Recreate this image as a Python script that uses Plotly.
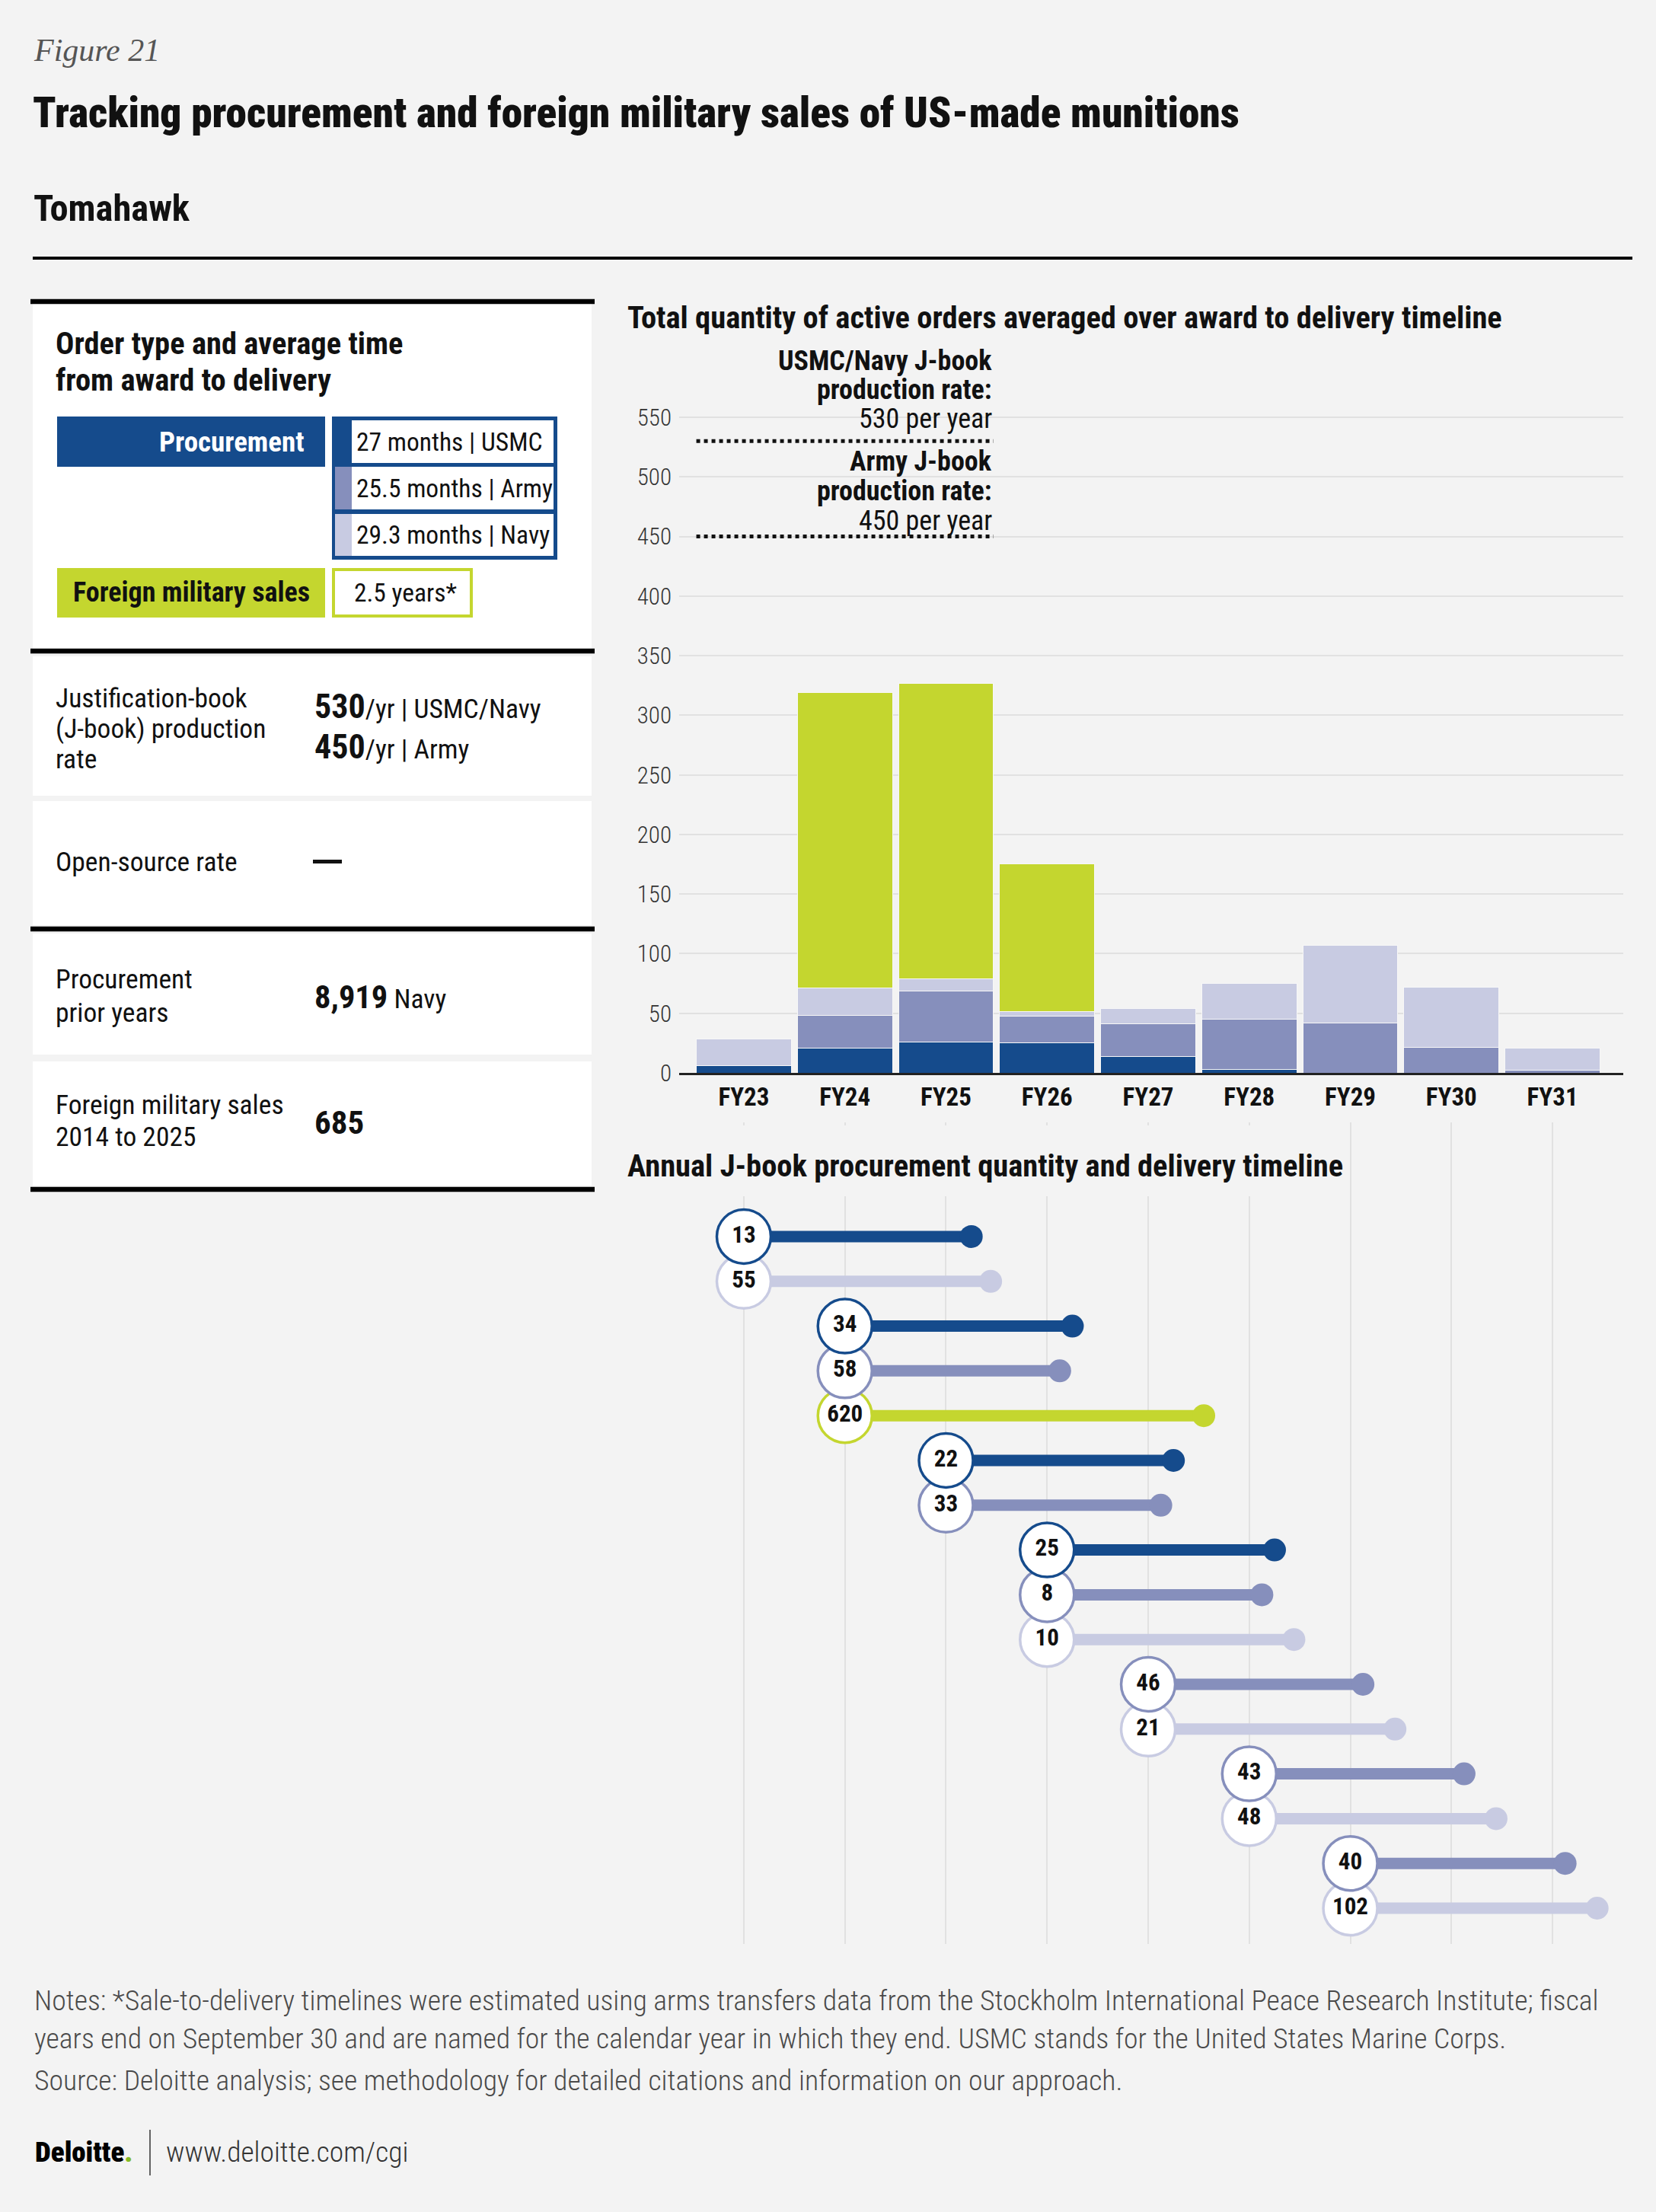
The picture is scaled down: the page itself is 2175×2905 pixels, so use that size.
import plotly.graph_objects as go

W, H = 2175, 2905
YS = 1.0066  # vertical calibration of measured positions


def px(x):
    return x / W


def py(y):
    return 1 - y * YS / H


BG = "#F3F3F3"
C_USMC = "#154B8C"
C_ARMY = "#868FBC"
C_NAVY = "#C8CBE2"
C_FMS = "#C4D62F"
GRID = "#E1E1E1"
INK = "#111111"
FONT = "'Roboto Condensed', 'DejaVu Sans Condensed', sans-serif"

# ---------------- data ----------------
fiscal_years = ["FY23", "FY24", "FY25", "FY26", "FY27", "FY28", "FY29", "FY30", "FY31"]
usmc_active = [6, 21, 26, 25, 13.7, 2.8, 0, 0, 0]
army_active = [0, 27, 43, 22.5, 27.3, 42.5, 42, 21.4, 2.3]
navy_active = [22.5, 23, 10, 4, 12.8, 30, 65, 50.6, 18.5]
fms_active = [0, 248, 248, 124, 0, 0, 0, 0, 0]
y_ticks = [0, 50, 100, 150, 200, 250, 300, 350, 400, 450, 500, 550]

rate_values = [530, 450]
rate_lines = [["<b>USMC/Navy J-book</b>", "<b>production rate:</b>", "530 per year"],
              ["<b>Army J-book</b>", "<b>production rate:</b>", "450 per year"]]

# timeline rows (order top to bottom)
tl_year = ["FY23", "FY23", "FY24", "FY24", "FY24", "FY25", "FY25", "FY26", "FY26", "FY26",
           "FY27", "FY27", "FY28", "FY28", "FY29", "FY29"]
tl_type = ["USMC", "Navy", "USMC", "Army", "FMS", "USMC", "Army", "USMC", "Army", "Navy",
           "Army", "Navy", "Army", "Navy", "Army", "Navy"]
tl_qty = [13, 55, 34, 58, 620, 22, 33, 25, 8, 10, 46, 21, 43, 48, 40, 102]
# award-to-delivery span in years (procurement from months; FMS span as drawn)
span_years = {"USMC": 27 / 12, "Army": 25.5 / 12, "Navy": 29.3 / 12, "FMS": 3.55}
type_color = {"USMC": C_USMC, "Army": C_ARMY, "Navy": C_NAVY, "FMS": C_FMS}

X_RANGE = [-0.64, 8.70]

fig = go.Figure()

# ---------------- stacked bars ----------------
xs = list(range(len(fiscal_years)))
for vals, col in [(usmc_active, C_USMC), (army_active, C_ARMY), (navy_active, C_NAVY), (fms_active, C_FMS)]:
    fig.add_trace(go.Bar(x=xs, y=vals, marker=dict(color=col, line=dict(color="#F7F7F7", width=1)),
                         xaxis="x", yaxis="y", hoverinfo="skip"))

# production-rate dotted lines (span FY23 bar left edge to FY25 bar right edge)
half_bar = 0.47
for v in rate_values:
    fig.add_trace(go.Scatter(x=[0 - half_bar, 2 + half_bar], y=[v, v], mode="lines",
                             line=dict(color="#111", width=5, dash="dot"),
                             xaxis="x", yaxis="y", hoverinfo="skip"))

# ---------------- timeline ----------------
row_idx = list(range(len(tl_qty)))
starts = [fiscal_years.index(y) for y in tl_year]
ends = [s + span_years[t] for s, t in zip(starts, tl_type)]

for t in ["Navy", "Army", "USMC", "FMS"]:
    lx, ly = [], []
    for i in row_idx:
        if tl_type[i] == t:
            lx += [starts[i], ends[i], None]
            ly += [i, i, None]
    fig.add_trace(go.Scatter(x=lx, y=ly, mode="lines", line=dict(color=type_color[t], width=15),
                             xaxis="x2", yaxis="y2", hoverinfo="skip"))

fig.add_trace(go.Scatter(x=ends, y=row_idx, mode="markers",
                         marker=dict(size=30, color=[type_color[t] for t in tl_type], line=dict(width=0)),
                         xaxis="x2", yaxis="y2", hoverinfo="skip"))

rev = row_idx[::-1]
fig.add_trace(go.Scatter(x=[starts[i] for i in rev], y=[i for i in rev], mode="markers+text",
                         marker=dict(size=71, color="white",
                                     line=dict(color=[type_color[tl_type[i]] for i in rev], width=3.5)),
                         text=["<b>%d</b>" % tl_qty[i] for i in rev], textposition="middle center",
                         textfont=dict(family=FONT, size=31, color=INK),
                         xaxis="x2", yaxis="y2", hoverinfo="skip"))

# ---------------- shapes ----------------
shapes = []


def rect(x0, y0, x1, y1, fill, layer="above"):
    shapes.append(dict(type="rect", xref="paper", yref="paper", x0=px(x0), x1=px(x1), y0=py(y1), y1=py(y0),
                       fillcolor=fill, line=dict(width=0), layer=layer))


def hline(x0, x1, y, width, color="#000"):
    shapes.append(dict(type="line", xref="paper", yref="paper", x0=px(x0), x1=px(x1), y0=py(y), y1=py(y),
                       line=dict(color=color, width=width), layer="above"))


hline(43, 2144, 339, 4)

# left panel white cards
rect(43, 399, 777, 852, "#FFFFFF")
rect(43, 862, 777, 1045, "#FFFFFF")
rect(43, 1052, 777, 1215, "#FFFFFF")
rect(43, 1226, 777, 1385, "#FFFFFF")
rect(43, 1394, 777, 1557, "#FFFFFF")
for yy in [396, 855, 1220, 1562]:
    hline(40, 781, yy, 6.5)

# order-type legend
rect(75, 547, 427, 613, C_USMC)
rect(436, 547, 732, 735, C_USMC)
rect(462, 552, 727, 608, "#FFFFFF")
rect(440, 613, 462, 669, C_ARMY)
rect(462, 613, 727, 669, "#FFFFFF")
rect(440, 675, 462, 730, C_NAVY)
rect(462, 675, 727, 730, "#FFFFFF")
rect(75, 746, 427, 811, C_FMS)
rect(436, 746, 621, 811, C_FMS)
rect(440, 750, 617, 807, "#FFFFFF")

# "no data" dash for open-source rate
rect(411, 1129, 449, 1134, "#111111")

# cover for timeline title area
rect(815, 1478, 1770, 1571, BG)

# footer separator
shapes.append(dict(type="line", xref="paper", yref="paper", x0=px(197), x1=px(197), y0=py(2797), y1=py(2857),
                   line=dict(color="#333", width=1.5)))

# ---------------- annotations ----------------
anns = []


def ann(x, y, text, size, color=INK, xanchor="left", family=FONT, yanchor="middle", align=None, weight=None, **kw):
    f = dict(family=family, size=size, color=color)
    if weight:
        f["weight"] = weight
    d = dict(x=px(x), y=py(y), xref="paper", yref="paper", text=text, showarrow=False,
             xanchor=xanchor, yanchor=yanchor, align=align or xanchor, font=f)
    d.update(kw)
    anns.append(d)


ann(42, 66, "<i>Figure 21</i>", 42, color="#555", family="'Liberation Serif', 'DejaVu Serif', serif")
ann(41, 148, "Tracking procurement and foreign military sales of US-made munitions", 55.3, weight=900)
ann(42, 273, "Tomahawk", 48.5, weight=700)

ann(71, 451, "Order type and average time", 40.5, weight=700)
ann(71, 499, "from award to delivery", 40.5, weight=700)
ann(402, 580, "<b>Procurement</b>", 37, color="#FFFFFF", xanchor="right")
ann(466, 580, "27 months | USMC", 33.5)
ann(466, 641, "25.5 months | Army", 33.5)
ann(466, 702, "29.3 months | Navy", 33.5)
ann(251, 778, "<b>Foreign military sales</b>", 36, xanchor="center")
ann(463, 778, "2.5 years*", 33.5)

BIG = "<b><span style='font-size:44px'>%s</span></b>"
ann(71, 917, "Justification-book", 35.5)
ann(71, 957, "(J-book) production", 35.5)
ann(71, 997, "rate", 35.5)
ann(411, 928, BIG % "530" + "/yr | USMC/Navy", 35.5)
ann(411, 981, BIG % "450" + "/yr | Army", 35.5)
ann(71, 1132, "Open-source rate", 35.5)
ann(71, 1286, "Procurement", 35.5)
ann(71, 1330, "prior years", 35.5)
ann(411, 1309, "<b><span style='font-size:42.5px'>8,919</span></b> Navy", 35.5)
ann(71, 1451, "Foreign military sales", 35.5)
ann(71, 1493, "2014 to 2025", 35.5)
ann(411, 1474, "<b>685</b>", 43)

ann(822, 417, "Total quantity of active orders averaged over award to delivery timeline", 40.5, weight=700)
ann(822, 1531, "Annual J-book procurement quantity and delivery timeline", 40.5, weight=700)

rate_text_rise = [[105, 67, 29], [98, 59, 20]]
for v, lines, rises in zip(rate_values, rate_lines, rate_text_rise):
    for txt, r in zip(lines, rises):
        anns.append(dict(x=2 + half_bar, y=v, xref="x", yref="y", text=txt, showarrow=False,
                         xanchor="right", yanchor="middle", align="right", yshift=r * YS,
                         font=dict(family=FONT, size=36, color=INK)))

NOTE_C = "#4A4A4A"
ann(43, 2627, "Notes: *Sale-to-delivery timelines were estimated using arms transfers data from the Stockholm "
              "International Peace Research Institute; fiscal", 37.7, color=NOTE_C, weight=300)
ann(43, 2677, "years end on September 30 and are named for the calendar year in which they end. "
              "USMC stands for the United States Marine Corps.", 37.7, color=NOTE_C, weight=300)
ann(43, 2732, "Source: Deloitte analysis; see methodology for detailed citations and information on our approach.",
    37.7, color=NOTE_C, weight=300)
ann(44, 2826, "Deloitte<span style='color:#86BC25'>.</span>", 37, color="#000", weight=900)
ann(216, 2826, "www.deloitte.com/cgi", 37.5, color="#333", weight=300)

# ---------------- layout ----------------
Y_MAX = 575
fig.update_layout(
    width=W, height=H, margin=dict(l=0, r=0, t=0, b=0, pad=0),
    paper_bgcolor=BG, plot_bgcolor=BG, showlegend=False,
    barmode="stack", bargap=0.06,
    font=dict(family=FONT, color=INK),
    xaxis=dict(domain=[px(892), px(2132)], range=X_RANGE, tickvals=xs,
               ticktext=["<b>%s</b>" % f for f in fiscal_years],
               showgrid=False, zeroline=False, showline=True, linecolor="#222", linewidth=3,
               ticks="", ticklabelstandoff=0, tickfont=dict(family=FONT, size=33, color=INK),
               anchor="y", fixedrange=True),
    yaxis=dict(domain=[py(1409), py(1409 - Y_MAX * 1.5655)], range=[0, Y_MAX], tickvals=y_ticks,
               showgrid=True, gridcolor=GRID, gridwidth=2, zeroline=False, showline=False, ticks="",
               ticklabelstandoff=9, tickfont=dict(family=FONT, size=31, color="#333", weight=300),
               anchor="x", fixedrange=True),
    xaxis2=dict(domain=[px(892), px(2132)], range=X_RANGE, tickvals=xs, showticklabels=False,
                showgrid=True, gridcolor=GRID, gridwidth=2, zeroline=False, showline=False,
                anchor="y2", fixedrange=True),
    yaxis2=dict(domain=[py(2553), py(1474)], range=[15.8, -2.55], visible=False, showgrid=False,
                zeroline=False, anchor="x2", fixedrange=True),
    shapes=shapes, annotations=anns,
)

fig.write_html("out.html", config={"displayModeBar": False},
               post_script="document.documentElement.style.margin='0px';document.body.style.margin='0px';"
                           "document.documentElement.style.overflow='hidden';document.body.style.overflow='hidden';"
                           "document.body.style.background='#F3F3F3';")
